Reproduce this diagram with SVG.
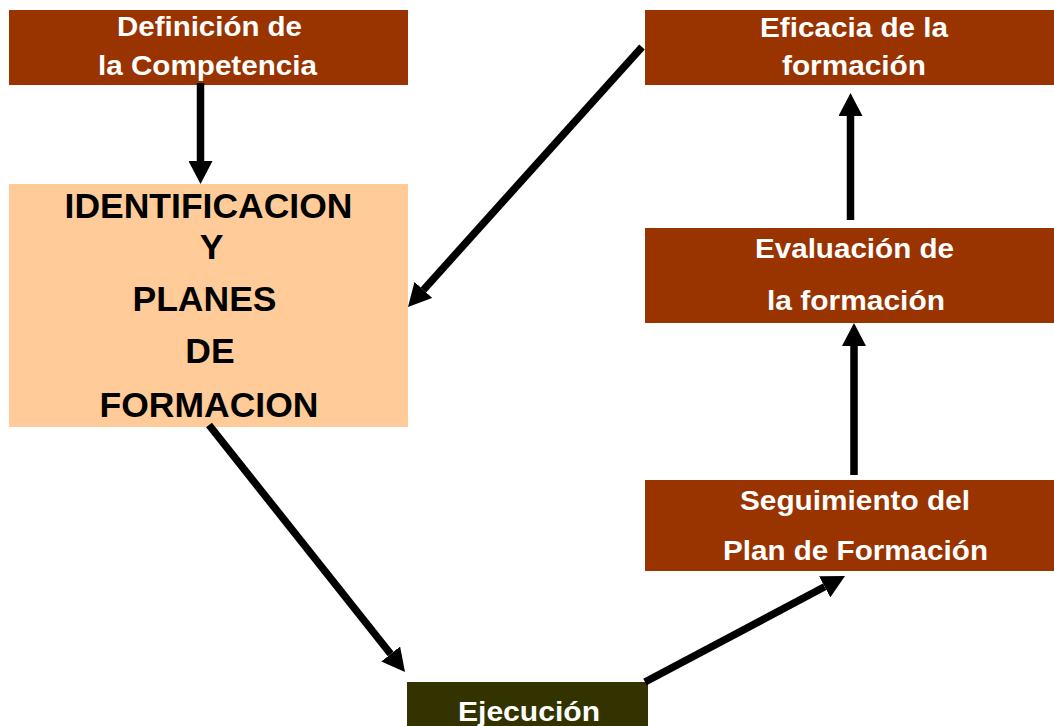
<svg xmlns="http://www.w3.org/2000/svg" width="1054" height="726" viewBox="0 0 1054 726">
<style>
.box{fill:#993300}
.lbl{font-family:"Liberation Sans",Arial,sans-serif;font-weight:bold;font-size:27px;fill:#ffffff;text-anchor:middle}
.big{font-family:"Liberation Sans",Arial,sans-serif;font-weight:bold;font-size:35.5px;fill:#000000;text-anchor:middle}
.conn{stroke:#000;stroke-width:7.5;fill:none;marker-end:url(#ah)}
</style>
<defs>
<marker id="ah" markerUnits="userSpaceOnUse" markerWidth="24" markerHeight="24" refX="0" refY="12" orient="auto" viewBox="0 0 24 24">
<path d="M0,0 L23,12 L0,24 z" fill="#000"/>
</marker>
</defs>
<rect width="1054" height="726" fill="#ffffff"/>
<g id="def">
<rect class="box" x="9" y="10" width="399" height="75"/>
<text class="lbl" x="209.5" y="36" textLength="185" lengthAdjust="spacingAndGlyphs">Definición de</text>
<text class="lbl" x="207.5" y="75" textLength="219" lengthAdjust="spacingAndGlyphs">la Competencia</text>
</g>
<g id="ident">
<rect x="9" y="184" width="399" height="243" fill="#FFCC99"/>
<text class="big" x="208.5" y="218">IDENTIFICACION</text>
<text class="big" x="211.5" y="259">Y</text>
<text class="big" x="204.5" y="311">PLANES</text>
<text class="big" x="210" y="363">DE</text>
<text class="big" x="209" y="417">FORMACION</text>
</g>
<g id="eficacia">
<rect class="box" x="645" y="10" width="409" height="75"/>
<text class="lbl" x="854" y="37" textLength="188" lengthAdjust="spacingAndGlyphs">Eficacia de la</text>
<text class="lbl" x="854" y="75" textLength="144" lengthAdjust="spacingAndGlyphs">formación</text>
</g>
<g id="evaluacion">
<rect class="box" x="645" y="228" width="409" height="95"/>
<text class="lbl" x="854.5" y="258" textLength="199" lengthAdjust="spacingAndGlyphs">Evaluación de</text>
<text class="lbl" x="856" y="310" textLength="178" lengthAdjust="spacingAndGlyphs">la formación</text>
</g>
<g id="seguimiento">
<rect class="box" x="645" y="480" width="409" height="91"/>
<text class="lbl" x="855" y="510" textLength="230" lengthAdjust="spacingAndGlyphs">Seguimiento del</text>
<text class="lbl" x="855.5" y="560" textLength="265" lengthAdjust="spacingAndGlyphs">Plan de Formación</text>
</g>
<g id="ejecucion">
<rect x="407" y="682" width="241" height="60" fill="#333300"/>
<text class="lbl" x="529" y="721" textLength="142" lengthAdjust="spacingAndGlyphs">Ejecución</text>
</g>
<g id="connectors">
<line class="conn" x1="200.5" y1="83" x2="200.5" y2="161"/>
<line class="conn" x1="642" y1="47" x2="423.4" y2="289.9"/>
<line class="conn" x1="209" y1="425" x2="390.7" y2="654"/>
<line class="conn" x1="645" y1="682" x2="824.7" y2="586.8"/>
<line class="conn" x1="854" y1="475" x2="854" y2="346"/>
<line class="conn" x1="850.5" y1="220" x2="850.5" y2="116"/>
</g>
</svg>
